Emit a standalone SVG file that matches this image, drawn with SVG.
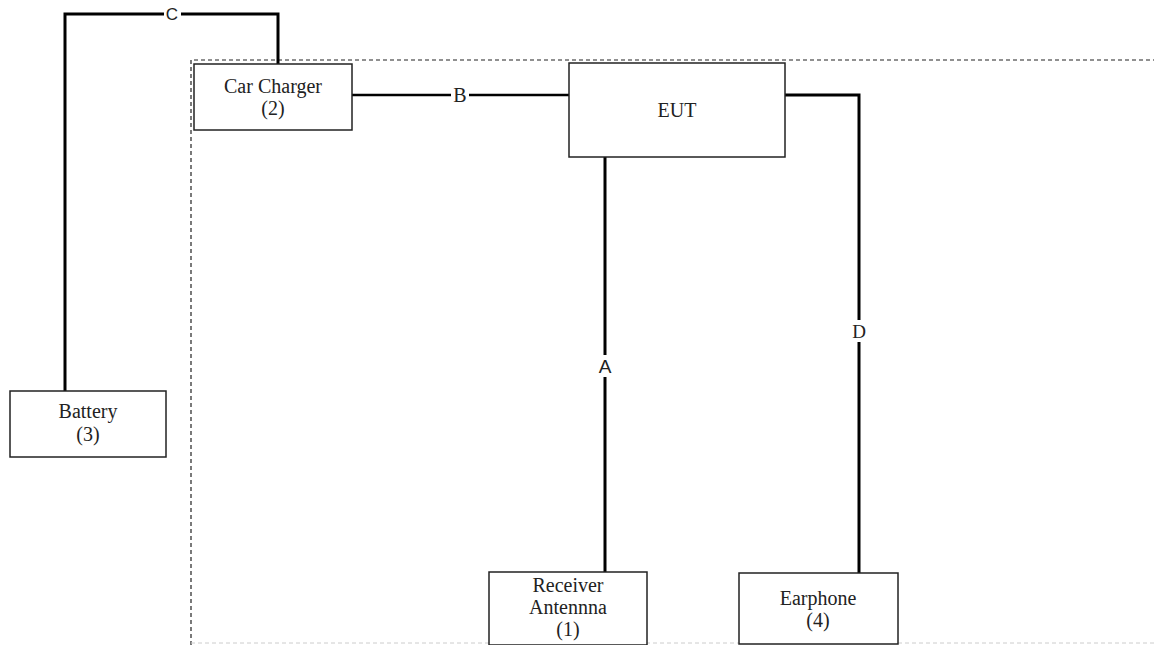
<svg xmlns="http://www.w3.org/2000/svg" width="1154" height="645" viewBox="0 0 1154 645">
<style>
.box{fill:#fff;stroke:#222;stroke-width:1.5}
.t{font-family:"Liberation Serif",serif;font-size:20px;fill:#222;text-anchor:middle}
.w{fill:none;stroke:#000;stroke-width:3}
.dash{fill:none;stroke:#222;stroke-width:1.2;stroke-dasharray:4,3}
.lbg{fill:#fff}
</style>
<rect width="1154" height="645" fill="#fff"/>
<g id="boundary">
<path class="dash" d="M191,645 V60 H1154"/>
<path d="M191,643 H1154" fill="none" stroke="#ccc" stroke-width="1" stroke-dasharray="4,3"/>
</g>
<g id="connectors">
<path class="w" d="M65,391 V14 H278 V64"/>
<rect class="lbg" x="164" y="5" width="17" height="18"/>
<text x="172" y="20" style="font-family:'Liberation Sans',sans-serif;font-size:17px;fill:#222;text-anchor:middle">C</text>
<path class="w" d="M352,95 H569" style="stroke-width:2.5"/>
<rect class="lbg" x="451" y="86" width="18" height="18"/>
<text x="460" y="102" style="font-family:'Liberation Serif',serif;font-size:20px;fill:#222;text-anchor:middle">B</text>
<path class="w" d="M605,157 V572"/>
<rect class="lbg" x="596" y="355" width="18" height="22"/>
<text x="605" y="373" style="font-family:'Liberation Sans',sans-serif;font-size:19px;fill:#222;text-anchor:middle">A</text>
<path class="w" d="M785,95 H859 V573"/>
<rect class="lbg" x="850" y="320" width="18" height="22"/>
<text x="859" y="338" style="font-family:'Liberation Serif',serif;font-size:19px;fill:#222;text-anchor:middle">D</text>
</g>
<g id="car-charger">
<rect class="box" x="194" y="64" width="158" height="66"/>
<text class="t" x="273" y="93">Car Charger</text>
<text class="t" x="273" y="115">(2)</text>
</g>
<g id="eut">
<rect class="box" x="569" y="63" width="216" height="94"/>
<text class="t" x="677" y="117">EUT</text>
</g>
<g id="battery">
<rect class="box" x="10" y="391" width="156" height="66"/>
<text class="t" x="88" y="418">Battery</text>
<text class="t" x="88" y="441">(3)</text>
</g>
<g id="receiver-antenna">
<rect class="box" x="489" y="572" width="158" height="73"/>
<text class="t" x="568" y="592">Receiver</text>
<text class="t" x="568" y="614">Antennna</text>
<text class="t" x="568" y="636">(1)</text>
</g>
<g id="earphone">
<rect class="box" x="739" y="573" width="159" height="71"/>
<text class="t" x="818" y="605">Earphone</text>
<text class="t" x="818" y="627">(4)</text>
</g>
</svg>
